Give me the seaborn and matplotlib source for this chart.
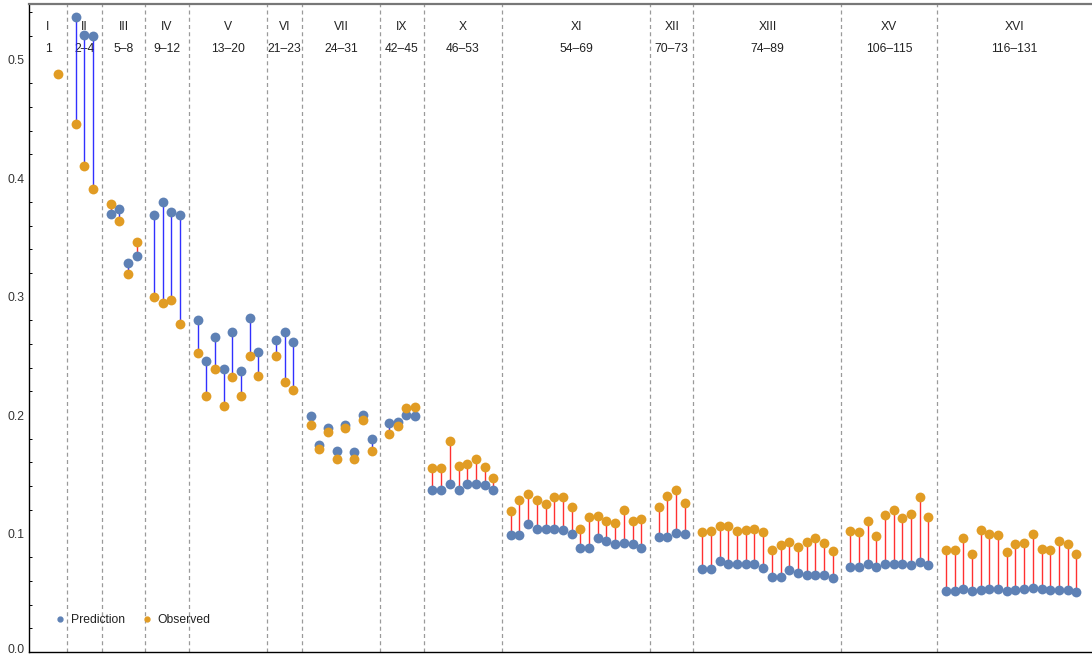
import numpy as np
import pandas as pd
import matplotlib
matplotlib.use("Agg")
import matplotlib.pyplot as plt
import matplotlib.transforms as mtransforms
import seaborn as sns
from matplotlib.lines import Line2D

# Group headers (roman numeral and id range) and group sizes
group_names = ["I", "II", "III", "IV", "V", "VI", "VII", "IX", "X", "XI", "XII",
               "XIII", "XV", "XVI"]
group_ranges = ["1", "2–4", "5–8", "9–12", "13–20", "21–23", "24–31", "42–45",
                "46–53", "54–69", "70–73", "74–89", "106–115", "116–131"]
group_sizes = [1, 3, 4, 4, 8, 3, 8, 4, 8, 16, 4, 16, 10, 16]

# Predicted values (id 1 has no prediction)
prediction = [
    np.nan,
    0.536, 0.521, 0.520,
    0.370, 0.374, 0.328, 0.334,
    0.369, 0.380, 0.371, 0.369,
    0.280, 0.246, 0.266, 0.239, 0.270, 0.237, 0.282, 0.253,
    0.263, 0.270, 0.262,
    0.199, 0.175, 0.189, 0.170, 0.192, 0.169, 0.200, 0.180,
    0.193, 0.194, 0.200, 0.199,
    0.137, 0.137, 0.142, 0.137, 0.142, 0.142, 0.141, 0.137,
    0.0985, 0.099, 0.108, 0.104, 0.104, 0.104, 0.103, 0.100,
    0.088, 0.088, 0.0965, 0.094, 0.0915, 0.092, 0.091, 0.088,
    0.097, 0.097, 0.1007, 0.100,
    0.070, 0.070, 0.0765, 0.0743, 0.074, 0.0743, 0.074, 0.0712,
    0.063, 0.063, 0.069, 0.0667, 0.065, 0.065, 0.0647, 0.0627,
    0.0717, 0.0717, 0.074, 0.0717, 0.074, 0.0743, 0.074, 0.0737, 0.0762, 0.0737,
    0.0512, 0.0512, 0.0529, 0.0512, 0.0526, 0.0529, 0.0529, 0.0512,
    0.0526, 0.0529, 0.054, 0.0529, 0.0526, 0.0526, 0.0523, 0.0506,
]

# Observed values
observed = [
    0.488,
    0.446, 0.410, 0.391,
    0.378, 0.364, 0.319, 0.346,
    0.300, 0.295, 0.297, 0.277,
    0.252, 0.216, 0.239, 0.208, 0.232, 0.216, 0.250, 0.233,
    0.250, 0.228, 0.221,
    0.192, 0.171, 0.186, 0.163, 0.189, 0.163, 0.196, 0.170,
    0.184, 0.191, 0.206, 0.207,
    0.1555, 0.155, 0.178, 0.157, 0.159, 0.163, 0.156, 0.1466,
    0.119, 0.128, 0.133, 0.1285, 0.125, 0.131, 0.131, 0.122,
    0.104, 0.114, 0.115, 0.111, 0.109, 0.120, 0.111, 0.112,
    0.122, 0.132, 0.137, 0.126,
    0.101, 0.102, 0.106, 0.106, 0.102, 0.103, 0.1035, 0.101,
    0.086, 0.0906, 0.093, 0.089, 0.0926, 0.096, 0.092, 0.085,
    0.102, 0.101, 0.1105, 0.098, 0.116, 0.120, 0.113, 0.1165, 0.131, 0.114,
    0.086, 0.086, 0.0965, 0.083, 0.103, 0.100, 0.0985, 0.084,
    0.091, 0.092, 0.0996, 0.087, 0.086, 0.094, 0.091, 0.083,
]

BLUE = "#5E81B5"
ORANGE = "#E19C24"

sns.set_theme(style="white")
plt.rcParams["font.family"] = ["Liberation Sans", "DejaVu Sans"]

# x slots: points run consecutively, each group boundary takes one slot
xpos, dividers = [], []
slot = 0
for size in group_sizes:
    for _ in range(size):
        xpos.append(slot)
        slot += 1
    dividers.append(slot)
    slot += 1
dividers = dividers[:-1]
xpos = np.array(xpos)
pred = np.array(prediction, dtype=float)
obs = np.array(observed, dtype=float)

df = pd.DataFrame({
    "x": np.concatenate([xpos, xpos]),
    "value": np.concatenate([pred, obs]),
    "series": ["Prediction"] * len(xpos) + ["Observed"] * len(xpos),
}).dropna()

fig = plt.figure(figsize=(10.92, 6.56), dpi=100)
ax = fig.add_axes([29 / 1092, 4 / 656, 1063 / 1092, 648 / 656])

XMIN, XMAX = -3.37, 118.8
YMIN, YMAX = 0.0, 0.547
ax.set_xlim(XMIN, XMAX)
ax.set_ylim(YMIN, YMAX)

# connecting segments: blue where prediction is higher, red otherwise
valid = ~np.isnan(pred)
seg_colors = np.where(pred[valid] > obs[valid], "#1a1aff", "#ff1a1a")
ax.vlines(xpos[valid], pred[valid], obs[valid], colors=seg_colors,
          linewidth=1.0, alpha=0.9, zorder=1)

sns.scatterplot(data=df[df.series == "Prediction"], x="x", y="value",
                color=BLUE, s=50, linewidth=0, ax=ax, zorder=2, legend=False)
sns.scatterplot(data=df[df.series == "Observed"], x="x", y="value",
                color=ORANGE, s=50, linewidth=0, ax=ax, zorder=3, legend=False)

# group dividers
for d in dividers:
    ax.axvline(d, color="#9a9a9a", linewidth=0.9, linestyle=(0, (3.2, 2.6)),
               zorder=0.5)

# group headers
bounds = [XMIN] + dividers + [XMAX]
for i, (name, rng) in enumerate(zip(group_names, group_ranges)):
    cx = (bounds[i] + bounds[i + 1]) / 2
    ax.text(cx, 0.5274, name, ha="center", va="center", fontsize=8.7,
            color="#222222", zorder=0.6)
    ax.text(cx, 0.5089, rng, ha="center", va="center", fontsize=8.7,
            color="#222222", zorder=0.6)

# axes styling
ax.set_xlabel("")
ax.set_ylabel("")
ax.set_xticks(dividers)
ax.set_xticklabels([])
ax.set_yticks(np.arange(0, 0.51, 0.1))
ax.set_yticklabels([f"{v:.1f}" for v in np.arange(0, 0.51, 0.1)])
ax.set_yticks(np.arange(0, 0.547, 0.02), minor=True)
ax.tick_params(axis="both", which="major", direction="in", length=4,
               width=0.8, color="black", labelsize=8.7, labelcolor="#333333",
               pad=3)
ax.tick_params(axis="y", which="minor", direction="in", length=2.5,
               width=0.7, color="black", left=True)
for side in ["left", "bottom"]:
    ax.spines[side].set_color("black")
    ax.spines[side].set_linewidth(1.0)
ax.spines["right"].set_visible(False)
ax.spines["top"].set_color("#777777")
ax.spines["top"].set_linewidth(1.6)
ax.grid(False)

# keep the bottom tick label inside the canvas
fig.canvas.draw()
lowest = ax.get_yticklabels()[0]
lowest.set_transform(lowest.get_transform() +
                     mtransforms.ScaledTranslation(0, 2.5 / 72, fig.dpi_scale_trans))

handles = [
    Line2D([], [], marker="o", linestyle="", color=BLUE, markersize=3.5),
    Line2D([], [], marker="o", linestyle="", color=ORANGE, markersize=3.5),
]
ax.legend(handles, ["Prediction", "Observed"], ncol=2, frameon=False,
          loc="center left", bbox_to_anchor=(0.012, 0.049), fontsize=8.7,
          handletextpad=0.3, columnspacing=1.2, handlelength=1.2,
          labelcolor="#222222")

fig.savefig("out.png", dpi=100)
